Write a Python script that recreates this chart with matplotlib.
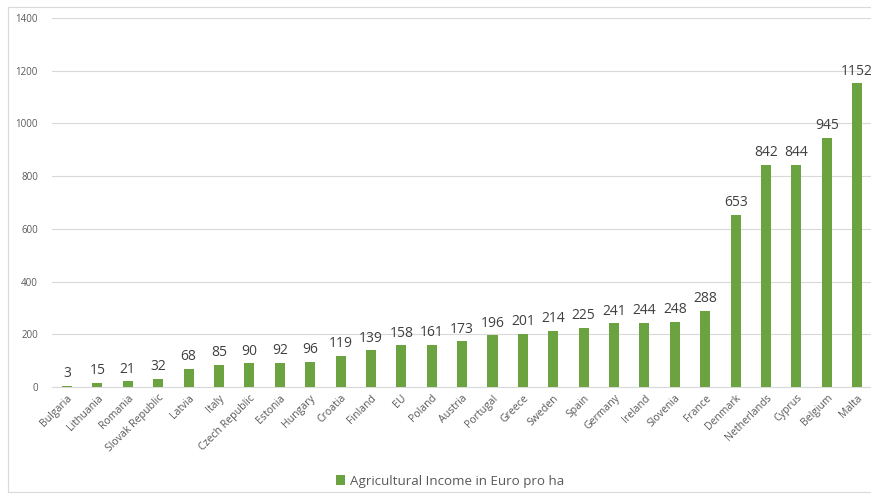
import matplotlib
matplotlib.use("Agg")
import matplotlib.pyplot as plt
from matplotlib.patches import Rectangle

countries = ["Bulgaria", "Lithuania", "Romania", "Slovak Republic", "Latvia", "Italy",
             "Czech Republic", "Estonia", "Hungary", "Croatia", "Finland", "EU", "Poland",
             "Austria", "Portugal", "Greece", "Sweden", "Spain", "Germany", "Ireland",
             "Slovenia", "France", "Denmark", "Netherlands", "Cyprus", "Belgium", "Malta"]
values = [3, 15, 21, 32, 68, 85, 90, 92, 96, 119, 139, 158, 161, 173, 196, 201, 214,
          225, 241, 244, 248, 288, 653, 842, 844, 945, 1152]
yticks = [0, 200, 400, 600, 800, 1000, 1200, 1400]
series_name = "Agricultural Income in Euro pro ha"

plt.rcParams['font.family'] = ['Open Sans', 'DejaVu Sans']
W, H = 871, 494
fig = plt.figure(figsize=(W / 100, H / 100), dpi=100)
ax = fig.add_axes([51.8 / W, 1 - 387 / H, (872.4 - 51.8) / W, (387 - 18) / H])

green = "#6aa33f"
x = list(range(len(countries)))
bars = ax.bar(x, values, width=0.33, color=green, label=series_name, zorder=3)
for xi, v in zip(x, values):
    ax.text(xi, v + 18, str(v), ha="center", va="bottom", fontsize=10, color="#404040",
            clip_on=False)

ax.set_ylim(0, 1400)
ax.set_xlim(-0.5, len(countries) - 0.5)
ax.set_yticks(yticks)
ax.set_yticklabels([str(t) for t in yticks], fontsize=7, color="#595959")
ax.set_xticks(x)
ax.set_xticklabels(countries, rotation=45, ha="right", rotation_mode="anchor",
                   fontsize=7.6, color="#595959")
ax.tick_params(axis="both", length=0)
ax.tick_params(axis="y", pad=10)
ax.tick_params(axis="x", pad=4)
ax.grid(axis="y", color="#d9d9d9", linewidth=0.8, zorder=0)
for s in ["top", "right", "left"]:
    ax.spines[s].set_visible(False)
ax.spines["bottom"].set_color("#d9d9d9")

fig.legend(handles=[bars], labels=[series_name], loc="center", bbox_to_anchor=(450 / W, 1 - 481 / H),
           frameon=False, fontsize=9.6, labelcolor="#595959", handlelength=0.7, handleheight=0.7,
           handletextpad=0.4)

fig.patches.append(Rectangle((8 / W, 2 / H), 1.0, 1 - 9 / H, transform=fig.transFigure,
                             fill=False, edgecolor="#d9d9d9", linewidth=0.8))

fig.savefig("out.png", dpi=100)
